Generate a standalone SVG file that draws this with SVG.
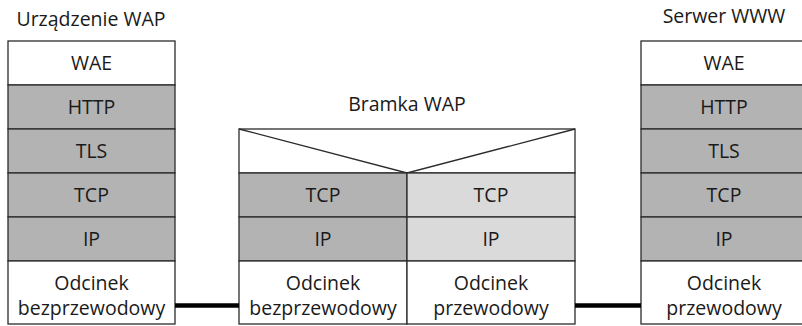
<svg xmlns="http://www.w3.org/2000/svg" width="802" height="326" viewBox="0 0 802 326">
<style>
text{font-family:"Open Sans","Noto Sans",sans-serif;font-size:19.5px;fill:#1a1a1a;text-anchor:middle}
.w{fill:#fff;stroke:#2b2b2b;stroke-width:1.3}
.d{fill:#b3b3b3;stroke:#2b2b2b;stroke-width:1.3}
.l{fill:#dadada;stroke:#2b2b2b;stroke-width:1.3}
.ln{fill:none;stroke:#2b2b2b;stroke-width:1.3}
.c{stroke:#000;stroke-width:4.5}
</style>
<g id="urzadzenie">
<text x="91" y="26">Urządzenie WAP</text>
<rect class="w" x="8" y="41" width="167" height="44"/>
<rect class="d" x="8" y="85" width="167" height="44"/>
<rect class="d" x="8" y="129" width="167" height="44"/>
<rect class="d" x="8" y="173" width="167" height="44"/>
<rect class="d" x="8" y="217" width="167" height="44"/>
<rect class="w" x="8" y="261" width="167" height="63"/>
<text x="91.5" y="70">WAE</text>
<text x="91.5" y="114">HTTP</text>
<text x="91.5" y="158">TLS</text>
<text x="91.5" y="202">TCP</text>
<text x="91.5" y="246">IP</text>
<text x="91.5" y="289.5">Odcinek</text>
<text x="91.5" y="314.5">bezprzewodowy</text>
</g>
<g id="bramka">
<text x="407" y="111">Bramka WAP</text>
<rect class="w" x="239" y="129" width="336" height="44"/>
<path class="ln" d="M239 129 L407 173 L575 129"/>
<rect class="d" x="239" y="173" width="168" height="44"/>
<rect class="d" x="239" y="217" width="168" height="44"/>
<rect class="l" x="407" y="173" width="168" height="44"/>
<rect class="l" x="407" y="217" width="168" height="44"/>
<rect class="w" x="239" y="261" width="168" height="63"/>
<rect class="w" x="407" y="261" width="168" height="63"/>
<text x="323" y="202">TCP</text>
<text x="323" y="246">IP</text>
<text x="491" y="202">TCP</text>
<text x="491" y="246">IP</text>
<text x="323" y="289.5">Odcinek</text>
<text x="323" y="314.5">bezprzewodowy</text>
<text x="491" y="289.5">Odcinek</text>
<text x="491" y="314.5">przewodowy</text>
</g>
<g id="serwer">
<text x="724" y="23">Serwer WWW</text>
<rect class="w" x="641" y="41" width="167" height="44"/>
<rect class="d" x="641" y="85" width="167" height="44"/>
<rect class="d" x="641" y="129" width="167" height="44"/>
<rect class="d" x="641" y="173" width="167" height="44"/>
<rect class="d" x="641" y="217" width="167" height="44"/>
<rect class="w" x="641" y="261" width="167" height="63"/>
<text x="724" y="70">WAE</text>
<text x="724" y="114">HTTP</text>
<text x="724" y="158">TLS</text>
<text x="724" y="202">TCP</text>
<text x="724" y="246">IP</text>
<text x="724" y="289.5">Odcinek</text>
<text x="724" y="314.5">przewodowy</text>
</g>
<g id="connectors">
<line class="c" x1="175" y1="305.5" x2="239" y2="305.5"/>
<line class="c" x1="575" y1="305.5" x2="641" y2="305.5"/>
</g>
</svg>
